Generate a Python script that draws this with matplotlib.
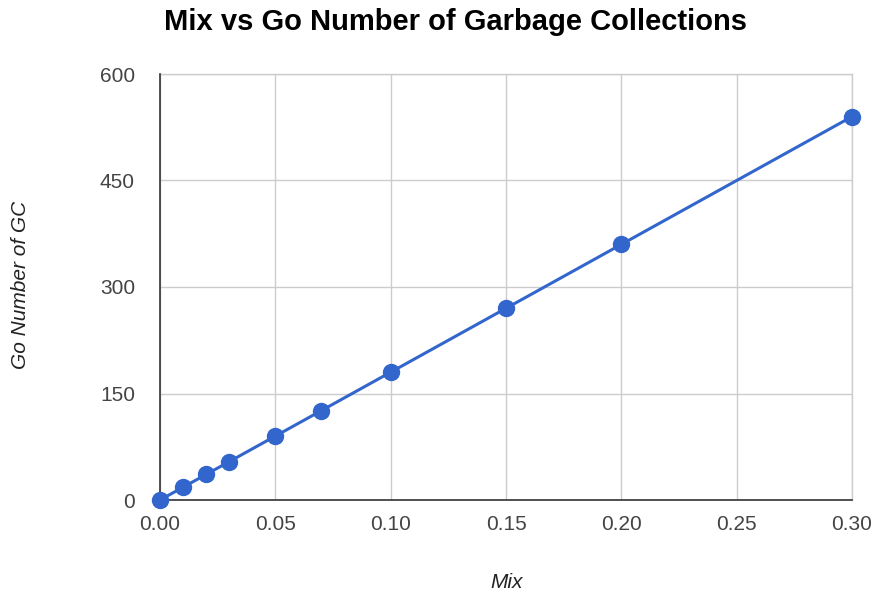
import matplotlib.pyplot as plt

# data
mix = [0.0, 0.01, 0.02, 0.03, 0.05, 0.07, 0.10, 0.15, 0.20, 0.30]
go_gc = [0, 18, 36, 54, 90, 126, 180, 270, 360, 540]

x_ticks = [0.0, 0.05, 0.10, 0.15, 0.20, 0.25, 0.30]
y_ticks = [0, 150, 300, 450, 600]

plt.rcParams['font.family'] = ['Liberation Sans', 'DejaVu Sans']

fig = plt.figure(figsize=(8.77, 5.96), dpi=100)
ax = fig.add_axes([160 / 877, 96 / 596, 692 / 877, 426 / 596])

ax.plot(mix, go_gc, color='#3366cc', linewidth=2.2, marker='o',
        markersize=11.5, clip_on=False, zorder=5)

ax.set_xlim(0, 0.30)
ax.set_ylim(0, 600)
ax.set_xticks(x_ticks)
ax.set_xticklabels(['%.2f' % t for t in x_ticks])
ax.set_yticks(y_ticks)
ax.grid(True, color='#cccccc', linewidth=1)
ax.set_axisbelow(True)

for side in ['top', 'right']:
    ax.spines[side].set_color('#cccccc')
    ax.spines[side].set_linewidth(1)
for side in ['left', 'bottom']:
    ax.spines[side].set_color('#333333')
    ax.spines[side].set_linewidth(1.2)
    ax.spines[side].set_zorder(4)

ax.tick_params(length=0, labelsize=15, labelcolor='#444444')
ax.tick_params(axis='x', pad=11)
ax.tick_params(axis='y', pad=18)

# axis titles placed in figure pixels like the original
fig.text(507 / 877, 1 - 582 / 596, 'Mix', ha='center', va='center',
         fontsize=15, style='italic', color='#222222')
fig.text(21 / 877, 1 - 285 / 596, 'Go Number of GC', ha='center', va='center',
         rotation=90, fontsize=15, style='italic', color='#222222')

fig.text(455 / 877, 1 - 22 / 596, 'Mix vs Go Number of Garbage Collections',
         ha='center', va='center', fontsize=21, fontweight='bold')

fig.savefig('out.png', dpi=100)
